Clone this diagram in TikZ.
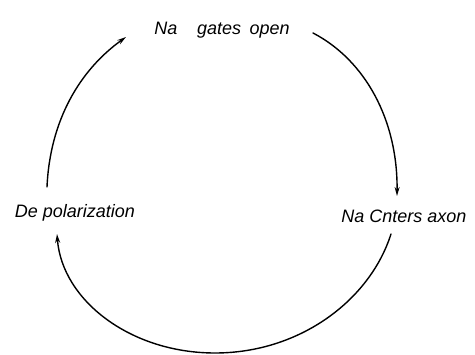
\documentclass[tikz,border=0pt]{standalone}
\usepackage{fontspec}
\setmainfont{Liberation Sans}
\usetikzlibrary{arrows.meta}
\tikzset{
  lbl/.style={anchor=base, inner sep=0pt, font=\fontsize{18}{20}\selectfont\itshape},
  cyc/.style={line width=1.4pt, line cap=round, -{Stealth[length=9pt,width=5pt]}}
}
\begin{document}
\begin{tikzpicture}[x=1pt,y=-1pt]
  \useasboundingbox (0,0) rectangle (475,355);
  % labels
  \node[lbl] (open) at (222,35) {Na\hspace{1.1em}gates\hspace{0.2em} open};
  \node[lbl] (enter) at (404,223) {Na Cnters axon};
  \node[lbl] (depol) at (75,218) {De polarization};
  % arc end points
  \coordinate (a1) at (313,33);
  \coordinate (a2) at (397,196);
  \coordinate (b1) at (391,234);
  \coordinate (bm) at (215,353);
  \coordinate (b2) at (57,234);
  \coordinate (c1) at (47,187);
  \coordinate (c2) at (126,37);
  % connectors
  \draw[cyc] (a1) .. controls (365,60) and (398,120) .. (a2);
  \draw[cyc] (b1) .. controls (370,300) and (300,353) .. (bm)
                  .. controls (130,353) and (62,300) .. (b2);
  \draw[cyc] (c1) .. controls (50,120) and (80,70) .. (c2);
\end{tikzpicture}
\end{document}
